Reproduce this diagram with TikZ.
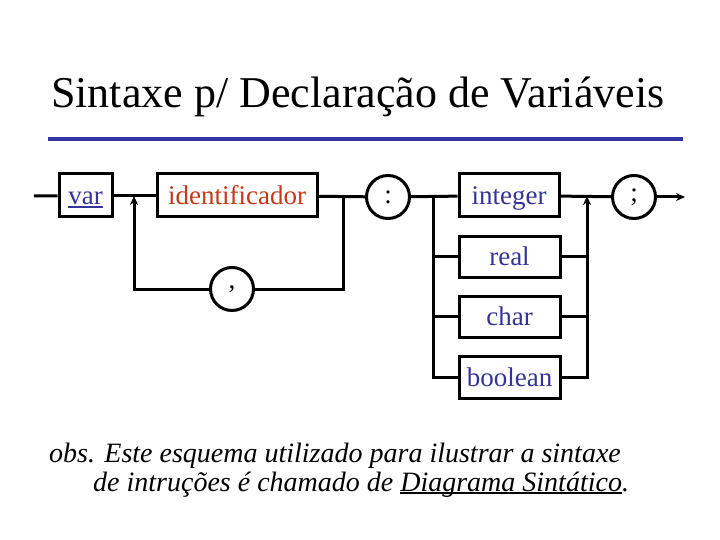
\documentclass[tikz,border=0pt]{standalone}
\usepackage{fontspec}
\setmainfont{Liberation Serif}
\usetikzlibrary{arrows.meta}
\definecolor{titleblue}{RGB}{51,51,165}
\definecolor{kwblue}{RGB}{51,51,153}
\definecolor{idred}{RGB}{196,56,24}
\newcommand\sublinha[1]{\setbox0\hbox{#1}\rlap{\rule[-3pt]{\wd0}{2pt}}\box0}
\tikzset{
  term/.style={draw,line width=3pt,inner sep=0pt,minimum height=43pt,
    text height=22pt,text depth=4pt,
    font=\fontsize{27}{30}\selectfont,text=kwblue},
  lit/.style={draw,circle,line width=3pt,inner sep=0pt,minimum size=43pt,
    font=\fontsize{27}{30}\selectfont},
  wire/.style={line width=3pt},
  nota/.style={anchor=base west,inner sep=0pt,font=\fontsize{28}{32}\selectfont\itshape}
}
\begin{document}
\begin{tikzpicture}[x=1pt,y=-1pt,line join=miter,>={Stealth[length=9pt,width=8pt]}]
\useasboundingbox (0,0) rectangle (720,540);
% titulo
\node[anchor=base west,inner sep=0pt,font=\fontsize{44}{50}\selectfont] (titulo) at (51,108) {Sintaxe p/ Declaração de Variáveis};
\draw[titleblue,line width=4pt] (48,139) -- (683,139);
% caixas
\node[term,minimum width=53pt] (var) at (85.5,195.5) {\sublinha{var}};
\node[term,minimum width=160pt,text=idred] (ident) at (237,195.5) {identificador};
\node[lit] (virg) at (232,289) {,};
\node[lit] (dp) at (388,197) {:};
\node[term,minimum width=100pt] (int) at (509,195.5) {integer};
\node[term,minimum width=101pt,minimum height=41pt] (real) at (509.5,256.5) {real};
\node[term,minimum width=101pt,minimum height=41pt] (char) at (509.5,316.5) {char};
\node[term,minimum width=101pt,minimum height=42pt] (bool) at (509.5,377) {boolean};
\node[lit] (pv) at (634,197) {;};
% pontos
\coordinate (ini) at (34,196);
\coordinate (jE) at (134,196);
\coordinate (jD) at (343,196);
\coordinate (sE) at (433,196);
\coordinate (sD) at (587,196);
\coordinate (fim) at (685,197);
% linhas
\draw[wire] (ini) -- (var);
\draw[wire] (var) -- (ident);
\draw[wire] (ident) -- (dp);
\draw[wire] (jD) |- (virg);
\draw[wire,->] (virg) -| (jE);
\draw[wire] (dp) -- (int);
\draw[wire] (sE) |- (bool);
\draw[wire] (sE |- real) -- (real);
\draw[wire] (sE |- char) -- (char);
\draw[wire] (int) -- (pv);
\draw[wire,->] (bool) -| (sD);
\draw[wire] (real) -- (real -| sD);
\draw[wire] (char) -- (char -| sD);
\draw[wire,->] (pv) -- (fim);
% obs
\node[nota] (obs1) at (49,462) {obs. Este esquema utilizado para ilustrar a sintaxe};
\node[nota] (obs2) at (93,491) {de intruções é chamado de \sublinha{Diagrama Sintático}.};
\end{tikzpicture}
\end{document}
